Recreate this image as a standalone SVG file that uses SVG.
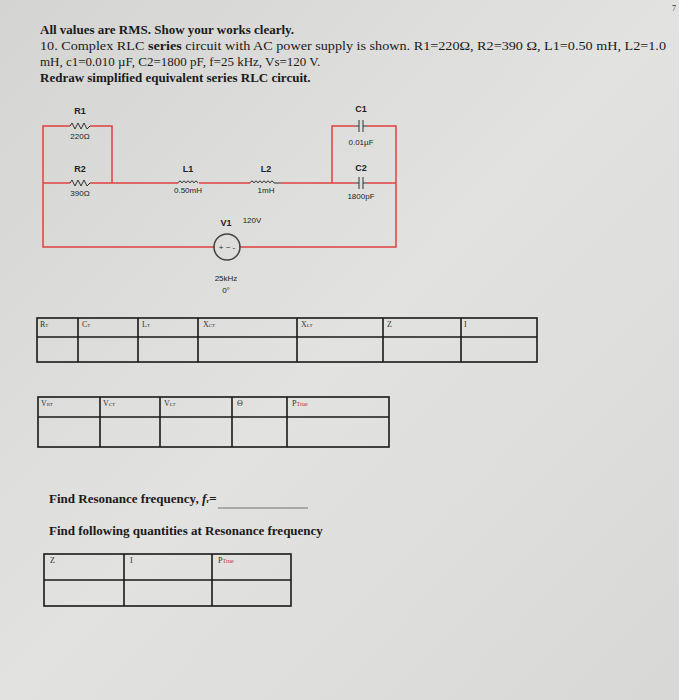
<svg xmlns="http://www.w3.org/2000/svg" width="679" height="700" viewBox="0 0 679 700">
<style>
.t{font-family:"Liberation Serif",serif;font-size:13px;fill:#1a1a1a}
.b{font-weight:bold}
.c{font-family:"Liberation Sans",sans-serif;font-size:8px;fill:#222;text-anchor:middle}
.cb{font-family:"Liberation Sans",sans-serif;font-size:9px;font-weight:bold;fill:#222;text-anchor:middle}
.w{stroke:#e04040;stroke-width:1.5;fill:none}
.k{stroke:#333;stroke-width:1;fill:none}
.tb{stroke:#1a1a1a;stroke-width:1.6;fill:none}
.h{font-family:"Liberation Serif",serif;font-size:8px;fill:#333}
</style>
<defs>
<linearGradient id="bg" x1="0" y1="0" x2="1" y2="1"><stop offset="0" stop-color="#d4d4d2"/><stop offset="0.5" stop-color="#e2e2e0"/><stop offset="1" stop-color="#d8d8d6"/></linearGradient>
</defs>
<rect width="679" height="700" fill="url(#bg)"/>
<text x="672" y="11" class="h">7</text>
<g id="header">
<text x="40" y="34" class="t b">All values are RMS. Show your works clearly.</text>
<text x="40" y="50" class="t" textLength="626" lengthAdjust="spacingAndGlyphs">10. Complex RLC <tspan class="b">series</tspan> circuit with AC power supply is shown.  R1=220Ω, R2=390 Ω, L1=0.50 mH, L2=1.0</text>
<text x="40" y="66" class="t">mH, c1=0.010 µF, C2=1800 pF, f=25 kHz, Vs=120 V.</text>
<text x="40" y="82" class="t b">Redraw simplified equivalent series RLC circuit.</text>
</g>
<g id="connectors">
<path class="w" d="M43,183 V126 H70 M90,126 H112 V183 M43,183 H70 M90,183 H178 M199,183 H250 M281,183 H332 V126 H355 M367,126 H396 V247 H241 M332,183 H355 M367,183 H396 M43,183 V247 H213"/>
</g>
<g id="R1"><path class="k" d="M70,126 l2,-3 l3,6 l3,-6 l3,6 l3,-6 l3,6 l3,-3"/><text x="80" y="114" class="cb">R1</text><text x="80" y="139" class="c">220Ω</text></g>
<g id="R2"><path class="k" d="M70,183 l2,-3 l3,6 l3,-6 l3,6 l3,-6 l3,6 l3,-3"/><text x="80" y="172" class="cb">R2</text><text x="80" y="196" class="c">390Ω</text></g>
<g id="L1"><path class="k" d="M178,183 q2,-4 4,0 q2,-4 4,0 q2,-4 4,0 q2,-4 4,0 q2,-4 4,0"/><text x="188" y="172" class="cb">L1</text><text x="188" y="193" class="c">0.50mH</text></g>
<g id="L2"><path class="k" d="M250,183 q2,-4 4,0 q2,-4 4,0 q2,-4 4,0 q2,-4 4,0 q2,-4 4,0 q2,-4 4,0 h7"/><text x="266" y="172" class="cb">L2</text><text x="266" y="193" class="c">1mH</text></g>
<g id="C1"><path class="k" d="M355,126 h4 M359,120 v12 M363,120 v12 M363,126 h4"/><text x="361" y="112" class="cb">C1</text><text x="361" y="145" class="c">0.01µF</text></g>
<g id="C2"><path class="k" d="M355,183 h4 M359,177 v12 M363,177 v12 M363,183 h4"/><text x="361" y="171" class="cb">C2</text><text x="361" y="199" class="c">1800pF</text></g>
<g id="V1"><path class="k" d="M213,247 h2 M239,247 h2"/><circle cx="227" cy="247" r="13" fill="none" stroke="#444" stroke-width="1.5"/><text x="227" y="250" class="c">+ ~ -</text><text x="226" y="226" class="cb">V1</text><text x="252" y="223" class="c">120V</text><text x="226" y="281" class="c">25kHz</text><text x="226" y="293" class="c">0°</text></g>
<g id="table1">
<rect class="tb" x="37" y="318" width="500" height="44"/><path class="tb" d="M37,337 H537 M78,318 V362 M138,318 V362 M198,318 V362 M297,318 V362 M383,318 V362 M461,318 V362"/>
<text x="40" y="327" class="h">R<tspan font-size="5">T</tspan></text><text x="82" y="327" class="h">C<tspan font-size="5">T</tspan></text><text x="142" y="327" class="h">L<tspan font-size="5">T</tspan></text><text x="203" y="327" class="h">X<tspan font-size="5">CT</tspan></text><text x="301" y="327" class="h">X<tspan font-size="5">LT</tspan></text><text x="387" y="327" class="h">Z</text><text x="464" y="327" class="h">I</text>
</g>
<g id="table2">
<rect class="tb" x="38" y="397" width="351" height="50"/><path class="tb" d="M38,417 H389 M100,397 V447 M160,397 V447 M232,397 V447 M287,397 V447"/>
<text x="41" y="406" class="h">V<tspan font-size="5">RT</tspan></text><text x="103" y="406" class="h">V<tspan font-size="5">CT</tspan></text><text x="164" y="406" class="h">V<tspan font-size="5">LT</tspan></text><text x="237" y="406" class="h">Θ</text><text x="292" y="406" class="h">P<tspan font-size="6" fill="#c03030">True</tspan></text>
</g>
<g id="questions">
<text x="49" y="503" class="t b" font-size="11">Find Resonance frequency, <tspan font-style="italic">f</tspan><tspan font-size="7">r</tspan>=</text>
<path d="M218,508 H308" stroke="#555" stroke-width="0.8"/>
<text x="49" y="535" class="t b" font-size="11">Find following quantities at Resonance frequency</text>
</g>
<g id="table3">
<rect class="tb" x="44" y="554" width="247" height="52"/><path class="tb" d="M44,580 H291 M124,554 V606 M212,554 V606"/>
<text x="50" y="563" class="h">Z</text><text x="130" y="563" class="h">I</text><text x="218" y="563" class="h">P<tspan font-size="6" fill="#c03030">True</tspan></text>
</g>
</svg>
